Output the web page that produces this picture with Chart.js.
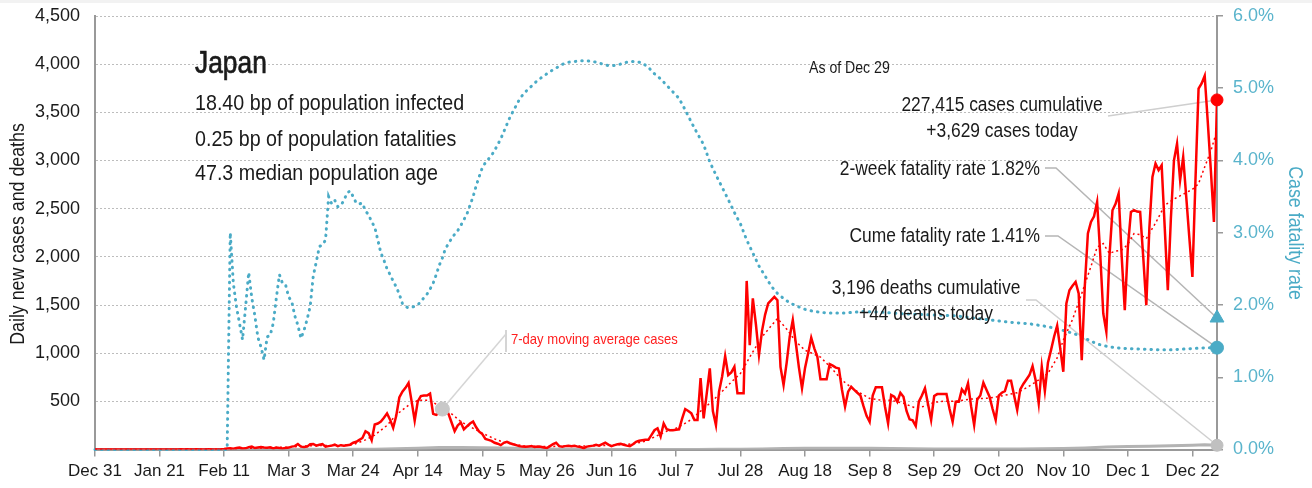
<!DOCTYPE html>
<html>
<head>
<meta charset="utf-8">
<script src="https://cdn.jsdelivr.net/npm/chart.js@4/dist/chart.umd.min.js"></script>
<style>
  html, body { margin: 0; padding: 0; background: #fff; }
  #wrap { width: 1312px; height: 488px; }
</style>
</head>
<body>
<div id="wrap"><canvas id="myChart" width="1312" height="488"></canvas></div>
<script>
// day 0 = Dec 31, 2019
const tickDays = [0, 21, 42, 63, 84, 105, 126, 147, 168, 189, 210, 231, 252, 273, 294, 315, 336, 357];
const tickLabels = ["Dec 31", "Jan 21", "Feb 11", "Mar 3", "Mar 24", "Apr 14", "May 5", "May 26", "Jun 16",
  "Jul 7", "Jul 28", "Aug 18", "Sep 8", "Sep 29", "Oct 20", "Nov 10", "Dec 1", "Dec 22"];

// daily new cases, one row per week
const dailyCases = [
  0, 0, 0, 0, 0, 0, 0,
  0, 0, 0, 0, 0, 0, 0,
  0, 1, 0, 0, 0, 1, 0,
  0, 1, 0, 1, 0, 1, 0,
  2, 1, 3, 1, 1, 2, 1,
  0, 1, 2, 1, 1, 0, 2,
  5, 10, 12, 8, 15, 20, 10,
  12, 25, 30, 15, 20, 25, 20,
  18, 22, 12, 20, 15, 10, 15,
  20, 30, 35, 57, 30, 25, 30,
  55, 57, 40, 50, 57, 30, 35,
  40, 50, 35, 45, 40, 45, 50,
  70, 80, 100, 120, 190, 170, 95,
  260, 270, 290, 330, 375, 310, 225,
  350, 540, 600, 640, 690, 500, 300,
  500, 555, 560, 560, 580, 370, 360,
  380, 430, 440, 370, 280, 190, 250,
  280, 210, 240, 270, 290, 230, 185,
  160, 110, 100, 90, 70, 60, 45,
  70, 80, 65, 55, 45, 35, 30,
  28, 30, 35, 25, 30, 28, 20,
  15, 35, 55, 70, 35, 30, 35,
  40, 35, 38, 30, 25, 15, 30,
  35, 40, 48, 40, 55, 70, 50,
  35, 45, 55, 60, 50, 40, 35,
  55, 80, 90, 95, 100, 100, 150,
  200, 220, 135, 270, 210, 200, 200,
  205, 210, 320, 420, 400, 375, 306,
  306, 740, 323, 580, 842, 400, 254,
  600, 755, 970, 773, 800, 858, 583,
  583, 583, 1750, 1084, 1568, 1300, 980,
  1234, 1400, 1516, 1550, 1585, 1550, 858,
  669, 900, 1170, 1343, 1100, 850, 635,
  850, 1000, 1160, 1050, 962, 728, 728,
  728, 887, 870, 850, 842, 620, 444,
  600, 651, 620, 589, 560, 450, 350,
  288, 560, 645, 645, 645, 444, 272,
  565, 548, 496, 589, 548, 400, 313,
  303, 244, 496, 560, 635, 470, 306,
  555, 575, 575, 575, 575, 420, 288,
  496, 496, 624, 582, 686, 450, 254,
  520, 560, 693, 620, 548, 420, 306,
  560, 589, 606, 714, 714, 560, 410,
  624, 680, 727, 773, 866, 720, 479,
  860, 606, 900, 1032, 1170, 1285, 1050,
  807, 1516, 1654, 1700, 1740, 1620, 928,
  1700, 2242, 2362, 2420, 2570, 2035, 1412,
  1222, 2000, 2484, 2550, 2657, 2000, 1447,
  2100, 2466, 2484, 2470, 2466, 2000, 1498,
  2300, 2829, 2968, 2900, 2950, 2300, 1654,
  2400, 3002, 3175, 2795, 3036, 2620, 2200,
  1792, 2800, 3746, 3800, 3880, 3400, 2900,
  2362, 3629
];

// 7-day moving average of cases, read at these days
const maDays = [0, 42, 49, 56, 63, 70, 77, 84, 88, 91, 95, 98, 102, 105, 109, 112, 116, 119, 123, 126,
  130, 133, 137, 140, 147, 154, 161, 168, 175, 179, 182, 186, 189, 193, 196, 200, 203, 207, 210, 213,
  217, 222, 225, 228, 231, 236, 240, 243, 247, 252, 256, 259, 263, 267, 270, 273, 276, 280, 284, 287,
  290, 294, 297, 300, 303, 306, 310, 313, 315, 318, 321, 324, 326, 328, 330, 332, 334, 336, 338, 340,
  342, 345, 348, 351, 354, 357, 359, 361, 363, 365];
const maCases = [0, 2, 12, 18, 25, 40, 42, 50, 100, 150, 250, 360, 460, 510, 510, 450, 370, 290, 220, 170,
  110, 75, 50, 35, 30, 38, 36, 45, 58, 85, 130, 190, 220, 290, 370, 480, 570, 700, 790, 960,
  1170, 1360, 1250, 1120, 1030, 960, 830, 720, 620, 530, 510, 510, 480, 430, 450, 490, 500, 500, 520, 530,
  531, 550, 570, 590, 640, 700, 790, 950, 1135, 1350, 1620, 1900, 2100, 2138, 2035, 2060, 2070, 2130, 2242, 2230,
  2190, 2350, 2535, 2600, 2650, 2700, 2760, 2933, 3100, 3313];

// daily deaths, read weekly
const deathDays = [0, 49, 56, 63, 70, 77, 84, 91, 98, 105, 112, 119, 126, 133, 140, 147, 154, 161, 168, 175,
  182, 189, 196, 203, 210, 217, 224, 231, 238, 245, 252, 259, 266, 273, 280, 287, 294, 301, 308, 315,
  322, 329, 336, 343, 350, 357, 361, 365];
const dailyDeaths = [0, 0, 1, 1, 2, 1, 3, 3, 8, 12, 20, 22, 18, 15, 10, 6, 3, 2, 1, 1,
  1, 1, 1, 2, 3, 6, 10, 14, 14, 14, 12, 10, 8, 6, 6, 5, 5, 6, 8, 10,
  16, 25, 30, 35, 40, 45, 50, 44];

// case fatality rate (%), right axis
const cfrDays = [0, 43, 44, 45, 46, 47, 48, 49, 50, 51, 52, 53, 54, 55, 56, 57, 58, 59, 60, 61,
  62, 63, 64, 65, 66, 67, 68, 69, 70, 71, 72, 73, 74, 75, 76, 77, 78, 79, 80, 81,
  82, 83, 84, 85, 86, 87, 88, 89, 90, 91, 92, 93, 94, 95, 96, 97, 98, 99, 100, 101,
  102, 103, 104, 105, 106, 107, 108, 109, 110, 111, 112, 113, 114, 115, 116, 117, 118, 119, 120, 121,
  122, 123, 124, 125, 126, 127, 128, 129, 130, 131, 132, 133, 134, 135, 136, 137, 138, 139, 140, 141,
  142, 143, 144, 145, 146, 147, 148, 150, 152, 154, 156, 158, 160, 162, 164, 166, 168, 170, 172, 174,
  176, 178, 180, 182, 184, 186, 188, 190, 192, 194, 196, 198, 200, 202, 204, 206, 208, 210, 212, 214,
  216, 218, 220, 222, 224, 226, 228, 231, 234, 238, 244, 250, 256, 262, 268, 274, 280, 286, 292, 298,
  304, 310, 314, 318, 320, 322, 324, 326, 328, 330, 334, 340, 346, 350, 354, 358, 362, 365];
const cfrPct = [0, 0, 3.0, 2.3, 1.98, 1.75, 1.52, 1.98, 2.45, 2.1, 1.85, 1.55, 1.42, 1.24, 1.56, 1.58, 1.75, 2.1, 2.42, 2.3,
  2.28, 2.11, 2.05, 1.85, 1.72, 1.54, 1.65, 1.8, 1.98, 2.4, 2.6, 2.81, 2.83, 2.9, 3.5, 3.4, 3.45, 3.36, 3.38, 3.45,
  3.55, 3.58, 3.5, 3.41, 3.4, 3.41, 3.3, 3.25, 3.15, 3.08, 2.9, 2.72, 2.62, 2.5, 2.42, 2.33, 2.25, 2.15, 2.02, 1.98,
  1.96, 1.97, 1.98, 2.0, 2.05, 2.1, 2.15, 2.22, 2.3, 2.42, 2.55, 2.65, 2.78, 2.85, 2.92, 2.98, 3.03, 3.1, 3.18, 3.26,
  3.38, 3.5, 3.65, 3.78, 3.9, 3.97, 4.02, 4.07, 4.14, 4.22, 4.3, 4.4, 4.5, 4.6, 4.68, 4.76, 4.84, 4.9, 4.95, 4.99,
  5.03, 5.07, 5.11, 5.14, 5.17, 5.2, 5.23, 5.28, 5.33, 5.36, 5.37, 5.38, 5.38, 5.37, 5.35, 5.32, 5.31, 5.32, 5.35, 5.37,
  5.37, 5.35, 5.29, 5.2, 5.13, 5.04, 4.95, 4.86, 4.7, 4.53, 4.37, 4.22, 3.98, 3.8, 3.63, 3.46, 3.28, 3.12, 2.9, 2.72,
  2.54, 2.4, 2.26, 2.16, 2.09, 2.03, 1.99, 1.94, 1.91, 1.89, 1.89, 1.91, 1.9, 1.88, 1.87, 1.86, 1.85, 1.82, 1.79, 1.76,
  1.74, 1.7, 1.66, 1.61, 1.58, 1.54, 1.5, 1.46, 1.44, 1.42, 1.40, 1.39, 1.38, 1.38, 1.39, 1.40, 1.41, 1.41];

const lastDay = 365;
const casesToday = 3629;
const deathsToday = 44;
const cfrTwoWeek = 1.82;
const cfrCume = 1.41;
const maNoteDay = 113;
const maNoteValue = 420;

const SANS = "'Liberation Sans', Arial, sans-serif";
const BLUE = "#4aabc6";
const RED = "#ff0000";

const pairs = (xs, ys) => xs.map((x, i) => ({ x: x, y: ys[i] }));

// text squeezed sideways to look like the condensed face of the original
function squeezed(ctx, text, x, y, size, align, sx, opts = {}) {
  ctx.save();
  ctx.font = (opts.weight || "normal") + " " + size + "px " + SANS;
  ctx.fillStyle = opts.color || "#1a1a1a";
  ctx.textAlign = align;
  ctx.textBaseline = opts.baseline || "alphabetic";
  ctx.translate(x, y);
  if (opts.rotate) ctx.rotate(opts.rotate);
  ctx.scale(sx, 1);
  ctx.fillText(text, 0, 0);
  if (opts.stroke) {
    ctx.lineWidth = opts.stroke;
    ctx.strokeStyle = ctx.fillStyle;
    ctx.strokeText(text, 0, 0);
  }
  ctx.restore();
}

// keep tick labels from pushing the plot area around
const noPad = (s) => { s.paddingTop = 0; s.paddingBottom = 0; };

const notes = {
  id: "notes",
  beforeDraw(chart) {
    const ctx = chart.ctx;
    ctx.save();
    ctx.fillStyle = "#fff";
    ctx.fillRect(0, 0, chart.width, chart.height);
    ctx.fillStyle = "#f2f2f2";
    ctx.fillRect(0, 0, chart.width, 3);
    ctx.restore();
  },
  beforeDatasetsDraw(chart) {
    const { ctx, scales: { x, y, y1 } } = chart;
    const ex = x.getPixelForValue(lastDay);
    ctx.save();
    ctx.lineWidth = 1.5;
    // cases cumulative
    ctx.strokeStyle = "#cfcfcf";
    ctx.beginPath();
    ctx.moveTo(1108, 116);
    ctx.lineTo(ex, y.getPixelForValue(casesToday));
    ctx.stroke();
    // 2-week fatality
    ctx.strokeStyle = "#b5b5b5";
    ctx.beginPath();
    ctx.moveTo(1045, 168);
    ctx.lineTo(1056, 168);
    ctx.lineTo(ex, y1.getPixelForValue(cfrTwoWeek));
    ctx.stroke();
    // cume fatality
    ctx.beginPath();
    ctx.moveTo(1045, 236);
    ctx.lineTo(1058, 236);
    ctx.lineTo(ex, y1.getPixelForValue(cfrCume));
    ctx.stroke();
    // deaths
    ctx.strokeStyle = "#d0d0d0";
    ctx.beginPath();
    ctx.moveTo(1026, 300);
    ctx.lineTo(1036, 300);
    ctx.lineTo(ex, y.getPixelForValue(deathsToday));
    ctx.stroke();
    // moving average note
    ctx.strokeStyle = "#d5d5d5";
    ctx.beginPath();
    ctx.moveTo(506, 334);
    ctx.lineTo(x.getPixelForValue(maNoteDay), y.getPixelForValue(maNoteValue));
    ctx.stroke();
    ctx.lineWidth = 2;
    ctx.beginPath();
    ctx.moveTo(506, 330);
    ctx.lineTo(506, 352);
    ctx.stroke();
    ctx.restore();
  },
  afterDatasetsDraw(chart) {
    const ctx = chart.ctx;
    squeezed(ctx, "Japan", 195, 73, 31, "left", 0.85, { stroke: 0.7 });
    squeezed(ctx, "18.40 bp of population infected", 195, 110, 21.5, "left", 0.915);
    squeezed(ctx, "0.25 bp of population fatalities", 195, 146, 21.5, "left", 0.915);
    squeezed(ctx, "47.3 median population age", 195, 180, 21.5, "left", 0.915);
    squeezed(ctx, "As of Dec 29", 809, 73, 17, "left", 0.83);
    squeezed(ctx, "227,415 cases cumulative", 1002, 111, 20, "center", 0.87);
    squeezed(ctx, "+3,629 cases today", 1002, 137, 20, "center", 0.87);
    squeezed(ctx, "2-week fatality rate 1.82%", 1040, 175, 20, "right", 0.87);
    squeezed(ctx, "Cume fatality rate 1.41%", 1040, 242, 20, "right", 0.87);
    squeezed(ctx, "3,196 deaths cumulative", 926, 294, 20, "center", 0.87);
    squeezed(ctx, "+44 deaths today", 926, 320, 20, "center", 0.87);
    squeezed(ctx, "7-day moving average cases", 511, 344, 15, "left", 0.87, { color: "#ff2020" });
    // axis titles
    squeezed(ctx, "Daily new cases and deaths", 18, 234, 20, "center", 0.89,
      { rotate: -Math.PI / 2, baseline: "middle" });
    squeezed(ctx, "Case fatality rate", 1295, 233, 20, "center", 0.89,
      { rotate: Math.PI / 2, baseline: "middle", color: BLUE });
  }
};

const config = {
  type: "line",
  data: {
    datasets: [
      {
        label: "today markers",
        data: [{ x: lastDay, y: casesToday }],
        yAxisID: "y",
        showLine: false,
        pointRadius: 6,
        pointBackgroundColor: RED,
        pointBorderColor: RED,
        clip: false,
        order: 0
      },
      {
        label: "deaths marker",
        data: [{ x: lastDay, y: deathsToday }],
        yAxisID: "y",
        showLine: false,
        pointRadius: 6,
        pointBackgroundColor: "#c0c0c0",
        pointBorderColor: "#c0c0c0",
        clip: false,
        order: 0
      },
      {
        label: "ma marker",
        data: [{ x: maNoteDay, y: maNoteValue }],
        yAxisID: "y",
        showLine: false,
        pointRadius: 7,
        pointBackgroundColor: "#c8c8c8",
        pointBorderColor: "#c8c8c8",
        order: 0
      },
      {
        label: "2-week cfr",
        data: [{ x: lastDay, y: cfrTwoWeek }],
        yAxisID: "y1",
        showLine: false,
        pointStyle: "triangle",
        pointRadius: 8,
        pointBackgroundColor: BLUE,
        pointBorderColor: BLUE,
        clip: false,
        order: 0
      },
      {
        label: "cume cfr",
        data: [{ x: lastDay, y: cfrCume }],
        yAxisID: "y1",
        showLine: false,
        pointRadius: 6.5,
        pointBackgroundColor: BLUE,
        pointBorderColor: BLUE,
        clip: false,
        order: 0
      },
      {
        label: "Daily cases",
        data: dailyCases.map((v, i) => ({ x: i, y: v })),
        yAxisID: "y",
        borderColor: RED,
        borderWidth: 2.5,
        pointRadius: 0,
        tension: 0,
        order: 1
      },
      {
        label: "7-day moving average cases",
        data: pairs(maDays, maCases),
        yAxisID: "y",
        borderColor: RED,
        borderWidth: 1.5,
        borderDash: [2, 3],
        pointRadius: 0,
        order: 2
      },
      {
        label: "Case fatality rate",
        data: pairs(cfrDays, cfrPct),
        yAxisID: "y1",
        borderColor: BLUE,
        borderWidth: 3,
        borderDash: [0.5, 6],
        borderCapStyle: "round",
        pointRadius: 0,
        clip: false,
        order: 3
      },
      {
        label: "Daily deaths",
        data: pairs(deathDays, dailyDeaths),
        yAxisID: "y",
        borderColor: "#b3b3b3",
        borderWidth: 3,
        pointRadius: 0,
        order: 4
      }
    ]
  },
  options: {
    responsive: false,
    animation: false,
    devicePixelRatio: 1,
    layout: { padding: { top: 16, left: 0, right: 0, bottom: 0 } },
    plugins: {
      legend: { display: false },
      tooltip: { enabled: false }
    },
    scales: {
      x: {
        type: "linear",
        min: 0,
        max: lastDay,
        afterBuildTicks: (s) => { s.ticks = tickDays.map((v) => ({ value: v })); },
        afterFit: (s) => { s.height = 38.5; s.paddingLeft = 0; s.paddingRight = 0; },
        ticks: {
          callback: (v, i) => tickLabels[i],
          autoSkip: false,
          maxRotation: 0,
          color: "#1a1a1a",
          padding: 5,
          font: { family: SANS, size: 17 }
        },
        grid: { drawOnChartArea: false, drawTicks: true, tickLength: 7, color: "#999", lineWidth: 1.5 },
        border: { display: true, color: "#999", width: 2 }
      },
      y: {
        position: "left",
        min: 0,
        max: 4500,
        afterFit: (s) => { s.width = 95; noPad(s); },
        ticks: {
          stepSize: 500,
          callback: (v) => (v === 0 ? "" : v.toLocaleString("en-US")),
          color: "#1a1a1a",
          padding: 15,
          font: { family: SANS, size: 18 }
        },
        grid: { color: "#bdbdbd", lineWidth: 1, drawTicks: false },
        border: { display: true, color: "#999", width: 2, dash: [2, 2] }
      },
      y1: {
        position: "right",
        min: 0,
        max: 6,
        afterFit: (s) => { s.width = 95; noPad(s); },
        ticks: {
          stepSize: 1,
          callback: (v) => v.toFixed(1) + "%",
          color: "#5ab4cc",
          padding: 10,
          font: { family: SANS, size: 18 }
        },
        grid: { drawOnChartArea: false, drawTicks: true, tickLength: 6, color: "#999", lineWidth: 1.5 },
        border: { display: true, color: "#999", width: 2 }
      }
    }
  },
  plugins: [notes]
};

const myChart = new Chart(document.getElementById("myChart"), config);
</script>
</body>
</html>
